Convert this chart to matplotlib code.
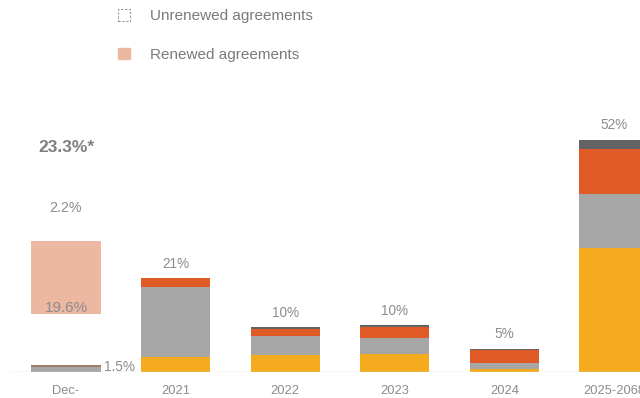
import matplotlib.pyplot as plt
from matplotlib.patches import Patch

plt.rcParams['font.family'] = ['Liberation Sans', 'DejaVu Sans']

categories = ['Dec-', '2021', '2022', '2023', '2024', '2025-2068']
yellow = [0.0, 3.4, 3.8, 4.0, 0.7, 27.9]
gray = [1.1, 15.6, 4.3, 3.7, 1.3, 12.0]
orange = [0.0, 2.0, 1.6, 2.5, 2.9, 10.0]
dark = [0.4, 0.0, 0.3, 0.3, 0.3, 2.1]
totals = ['1.5%', '21%', '10%', '10%', '5%', '52%']
renewed_dec = '19.6%'
unrenewed_dec = '2.2%'
total_dec = '23.3%*'

c_yellow = '#F4AC1E'
c_gray = '#A6A6A6'
c_orange = '#E05A25'
c_dark = '#636366'
c_pink = '#EDB8A2'
txt = '#8c8c8c'

fig = plt.figure(figsize=(6.4, 3.98), dpi=100)
ax = fig.add_axes([0, 26 / 398, 1, 372 / 398])

x = list(range(len(categories)))
w = 0.63
b1 = yellow
b2 = [a + b for a, b in zip(b1, gray)]
b3 = [a + b for a, b in zip(b2, orange)]
ax.bar(x, yellow, w, color=c_yellow)
ax.bar(x, gray, w, bottom=b1, color=c_gray)
ax.bar(x, orange, w, bottom=b2, color=c_orange)
dark_cols = [c_dark] * len(x)
dark_cols[0] = '#A07B6C'
ax.bar(x, dark, w, bottom=b3, color=dark_cols)

tops = [a + b for a, b in zip(b3, dark)]
for i in range(1, len(x)):
    ax.annotate(totals[i], (x[i], tops[i]), xytext=(0, 10.5), textcoords='offset points',
                ha='center', va='center', fontsize=9.8, color=txt)
ax.text(0.35, tops[0] - 0.4, totals[0], ha='left', va='center', fontsize=9.8, color=txt)

# renewed agreements box for Dec- (not to scale)
ax.bar(0, 16.4, w, bottom=13.0, color=c_pink)
ax.text(0, 14.4, renewed_dec, ha='center', va='center', fontsize=11, color=txt)
ax.text(0, 36.8, unrenewed_dec, ha='center', va='center', fontsize=10.3, color=txt)
ax.text(0, 50.4, total_dec, ha='center', va='center', fontsize=12.5, color='#7f7f7f',
        fontweight='bold')

ax.set_xlim(-0.602, 5.237)
ax.set_ylim(0, 83.4)
ax.axhline(0, xmin=11 / 640, color='#d9d9d9', lw=1)
for s in ax.spines.values():
    s.set_visible(False)
ax.set_yticks([])
ax.set_xticks(x)
ax.set_xticklabels(categories, fontsize=9.3, color=txt)
ax.tick_params(axis='x', length=0, pad=9)

handles = [Patch(facecolor='white', edgecolor='#999999', linestyle=(0, (2, 1.5)), lw=0.8),
           Patch(facecolor=c_pink, edgecolor=c_pink)]
fig.legend(handles, ['Unrenewed agreements', 'Renewed agreements'], loc='upper left',
           bbox_to_anchor=(118 / 640, 1 - 9 / 398), frameon=False, fontsize=11,
           handlelength=0.8, handleheight=0.8, handletextpad=1.3, labelspacing=1.6,
           labelcolor='#7a7a7a', borderpad=0, borderaxespad=0)

fig.savefig('out.png', dpi=100)
